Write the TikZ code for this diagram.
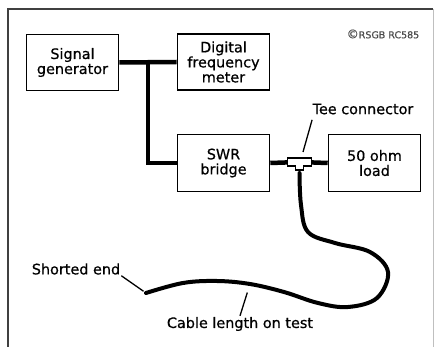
\documentclass[tikz,border=0pt]{standalone}
\usepackage{fontspec}
\setmainfont[FakeBold=0.6,AutoFakeBold=0.6]{DejaVu Sans}
\usetikzlibrary{calc}
\begin{document}
\begin{tikzpicture}[x=1pt,y=-1pt,font=\fontsize{14.4}{15}\selectfont,
  unit/.style={draw,line width=1.6pt,minimum width=92pt,minimum height=56pt,align=center,inner sep=0pt},
  feed/.style={line width=4.5pt},
  cable/.style={line width=4pt,line cap=round},
  pointer/.style={line width=1.3pt}]
\useasboundingbox (0,0) rectangle (436,347);
% page frame
\draw[black!75,line width=1.8pt] (8,347) -- (8,9) -- (433,9);
\draw[black!25,line width=1pt] (433,9) -- (433,347);
\node[font=\fontsize{9.5}{10}\selectfont,text=black!70] (copy) at (383,34) {{\large ©}RSGB RC585};
% instruments
\node[unit] (sig) at (72.5,62.5) {Signal\\generator};
\node[unit] (dfm) at (223.5,62) {Digital\\frequency\\meter};
\node[unit,minimum height=57pt] (swr) at (223.5,163) {SWR\\bridge};
\node[unit,minimum height=57pt] (load) at (374.5,163) {50 ohm\\load};
% feeders
\draw[feed] (sig.east) -- (dfm.west);
\draw[feed] ($(sig.east)!0.5!(dfm.west)$) |- (swr.west);
\coordinate (tee) at (299.5,162);
\draw[feed] (swr.east) -- (tee) -- (load.west);
\draw[line width=1.6pt,fill=white] (tee) ++(-12,-4) -- ++(24,0) -- ++(0,8) -- ++(-8,0) -- ++(0,4)
  -- ++(-8,0) -- ++(0,-4) -- ++(-8,0) -- cycle;
% cable under test
\coordinate (stem) at (299.5,173);
\coordinate (short) at (146,293);
\coordinate (cablept) at (250,284);
\draw[cable] plot[smooth,tension=0.6] coordinates {(stem) (301,205) (308,232) (335,243) (370,252)
  (388,272) (377,298) (348,307) (318,303) (284,292) (cablept) (217,281) (183,283) (short)};
% labels
\node (teelbl) at (363,109) {Tee connector};
\draw[pointer] ([xshift=3pt,yshift=-2pt]teelbl.south west) -- ($(tee)+(3.5,-10)$);
\node[inner sep=1pt] (shortlbl) at (76,269) {Shorted end};
\draw[pointer,shorten >=3pt] (shortlbl.south east) -- (short);
\node[inner sep=2pt] (cablelbl) at (240,324) {Cable length on test};
\draw[pointer,shorten >=9pt] ([yshift=-1pt]cablelbl.north) -- (cablept);
\end{tikzpicture}
\end{document}
